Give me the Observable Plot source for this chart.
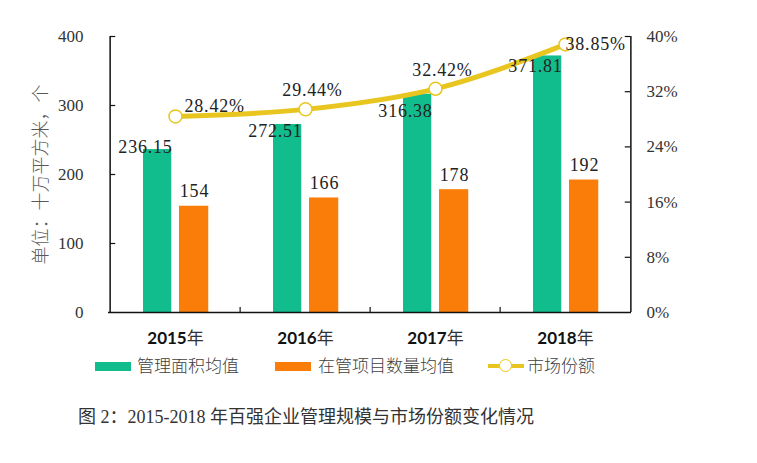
<!DOCTYPE html>
<html>
<head>
<meta charset="utf-8">
<script src="https://cdn.jsdelivr.net/npm/d3@7"></script>
<script src="https://cdn.jsdelivr.net/npm/@observablehq/plot@0.6"></script>
<style>
  body { margin: 0; background: #fff; }
  #wrap { position: relative; width: 757px; height: 463px; overflow: hidden; background: #fff;
          font-family: "Liberation Serif", "Noto Sans CJK SC", serif; }
  #chart { position: absolute; left: 0; top: 0; }
  .sw { position: absolute; }
  .lt { position: absolute; font-family: "Noto Sans CJK SC", sans-serif; font-weight: 300; font-size: 17px; color: #404040; line-height: 20px; }
  #caption { position: absolute; left: 78px; top: 405px; font-size: 18px; color: #333; line-height: 24px; white-space: nowrap;
             font-family: "Liberation Serif", "Noto Sans CJK SC", serif; }
</style>
</head>
<body>
<div id="wrap">
  <div id="chart"></div>
  <div id="legend"></div>
  <div id="caption"></div>
</div>
<script>
// ---- data ----
const years = ["2015年", "2016年", "2017年", "2018年"];
const areaAvg = [236.15, 272.51, 316.38, 371.81];      // 管理面积均值 (十万平方米)
const projectAvg = [154, 166, 178, 192];               // 在管项目数量均值 (个)
const marketShare = [28.42, 29.44, 32.42, 38.85];      // 市场份额 (%)
const leftTicks = [0, 100, 200, 300, 400];
const rightTicks = [0, 8, 16, 24, 32, 40];             // %
const seriesNames = ["管理面积均值", "在管项目数量均值", "市场份额"];
const yLabel = "单位：十万平方米，个";
const captionText = "图 2：2015-2018 年百强企业管理规模与市场份额变化情况";

// ---- styling / layout ----
const GREEN = "#12bd8d", ORANGE = "#fb7d09", YELLOW = "#e9c61f";
const W = 757, H = 352, ML = 108, MR = 126, MT = 36, MB = 40;
const BW = (W - ML - MR) / years.length;
const PH = H - MT - MB;
const SHARE_TO_Y = 400 / 40; // right axis 0–40% mapped onto left axis 0–400

const rows = years.map((year, i) => ({
  year, area: areaAvg[i], count: projectAvg[i], share: marketShare[i]
}));
const shareY = d => d.share * SHARE_TO_Y;

const serif = "Liberation Serif";
const chart = Plot.plot({
  width: W, height: H,
  marginLeft: ML, marginRight: MR, marginTop: MT, marginBottom: MB,
  style: { fontFamily: serif, fontSize: "17px", color: "#333", background: "transparent", overflow: "visible" },
  x: { type: "band", domain: years, padding: 0 },
  y: { domain: [0, 400] },
  marks: [
    Plot.barY(rows, { x: "year", y: "area", fill: GREEN, insetLeft: 33, insetRight: BW - 62 }),
    Plot.barY(rows, { x: "year", y: "count", fill: ORANGE, insetLeft: 69, insetRight: BW - 99 }),
    // axis lines
    Plot.ruleY([0], { stroke: "#111", strokeWidth: 1.5 }),
    Plot.ruleX(years.slice(0, 1), { dx: -BW / 2, stroke: "#111", strokeWidth: 1.5 }),
    Plot.ruleX(years.slice(-1), { dx: BW / 2, stroke: "#111", strokeWidth: 1.5 }),
    // inward ticks
    Plot.ruleX(years.slice(1), { dx: -BW / 2, insetTop: PH - 5, stroke: "#111", strokeWidth: 1.2 }),
    Plot.tickY(leftTicks.slice(1), { y: d => d, x: () => years[0], insetRight: BW - 6, stroke: "#111", strokeWidth: 1.2 }),
    Plot.tickY(rightTicks.slice(1), { y: d => d * SHARE_TO_Y, x: () => years[years.length - 1], insetLeft: BW - 6, stroke: "#111", strokeWidth: 1.2 }),
    Plot.axisY({ anchor: "left", ticks: leftTicks, tickSize: 0, tickPadding: 25, fontSize: 17, fill: "#333",
                 label: yLabel, labelAnchor: "center", labelOffset: 74, labelArrow: "none" }),
    Plot.axisY({ anchor: "right", ticks: rightTicks.map(p => p * SHARE_TO_Y), tickFormat: d => (d / SHARE_TO_Y) + "%",
                 tickSize: 0, tickPadding: 15, fontSize: 17, fill: "#333", label: null }),
    Plot.axisX({ tickSize: 0, tickPadding: 19, fontSize: 17, fontFamily: "Lato", fontWeight: "bold", fill: "#111", label: null }),
    // market share line
    Plot.line(rows, { x: "year", y: shareY, stroke: YELLOW, strokeWidth: 5, curve: "monotone-x" }),
    Plot.dot(rows, { x: "year", y: shareY, r: 6.5, fill: "white", stroke: YELLOW, strokeWidth: 1.5 }),
    // value labels
    Plot.text(rows, { x: "year", y: d => Math.min(d.area, shareY(d) - 35), text: d => d.area.toFixed(2),
                      dx: -30, dy: -2, fontSize: 18, fill: "#222" }),
    Plot.text(rows, { x: "year", y: "count", text: d => String(d.count), dx: 19, dy: -9, lineAnchor: "bottom", fontSize: 18, fill: "#222" }),
    Plot.text(rows.slice(0, 1), { x: "year", y: shareY, text: d => d.share.toFixed(2) + "%", textAnchor: "start", dx: 9, dy: -10, fontSize: 18, fill: "#222" }),
    Plot.text(rows.slice(1, -1), { x: "year", y: shareY, text: d => d.share.toFixed(2) + "%", dx: 7, dy: -19, fontSize: 18, fill: "#222" }),
    Plot.text(rows.slice(-1), { x: "year", y: shareY, text: d => d.share.toFixed(2) + "%", textAnchor: "start", dx: 0, dy: 0, fontSize: 18, fill: "#222" })
  ]
});
document.getElementById("chart").appendChild(chart);

// y axis label styling
d3.select(chart).selectAll("text").filter(function () { return this.textContent === yLabel; })
  .attr("fill", "#595959").style("font-size", "18px").style("font-family", "'Noto Sans CJK SC', sans-serif").style("font-weight", "300");
// digit spacing for value labels
d3.select(chart).selectAll("g[aria-label='text'] text").style("letter-spacing", "0.8px");
// year tick labels: bold digits, regular 年
d3.select(chart).selectAll("text").filter(function () { return years.includes(this.textContent); })
  .each(function () {
    const t = this.textContent;
    const sel = d3.select(this).text(null);
    sel.append("tspan").text(t.slice(0, -1));
    sel.append("tspan").attr("font-weight", "normal").attr("font-family", "'Noto Sans CJK SC', sans-serif").attr("fill", "#333").text(t.slice(-1));
  });

// ---- legend ----
const legend = d3.select("#legend");
const items = [
  { name: seriesNames[0], kind: "bar", color: GREEN, left: 95, textLeft: 137 },
  { name: seriesNames[1], kind: "bar", color: ORANGE, left: 275, textLeft: 318 },
  { name: seriesNames[2], kind: "line", color: YELLOW, left: 488, textLeft: 527 }
];
const LY = 366;
for (const it of items) {
  if (it.kind === "bar") {
    legend.append("div").attr("class", "sw")
      .style("left", it.left + "px").style("top", (LY - 4) + "px")
      .style("width", "36px").style("height", "9px").style("background", it.color);
  } else {
    legend.append("div").attr("class", "sw")
      .style("left", it.left + "px").style("top", (LY - 2) + "px")
      .style("width", "36px").style("height", "4px").style("background", it.color);
    legend.append("div").attr("class", "sw")
      .style("left", (it.left + 11) + "px").style("top", (LY - 7) + "px")
      .style("width", "11px").style("height", "11px").style("border-radius", "50%")
      .style("background", "#fff").style("border", "1.5px solid " + it.color);
  }
  legend.append("div").attr("class", "lt")
    .style("left", it.textLeft + "px").style("top", (LY - 11) + "px").text(it.name);
}
document.getElementById("caption").textContent = captionText;
</script>
</body>
</html>
